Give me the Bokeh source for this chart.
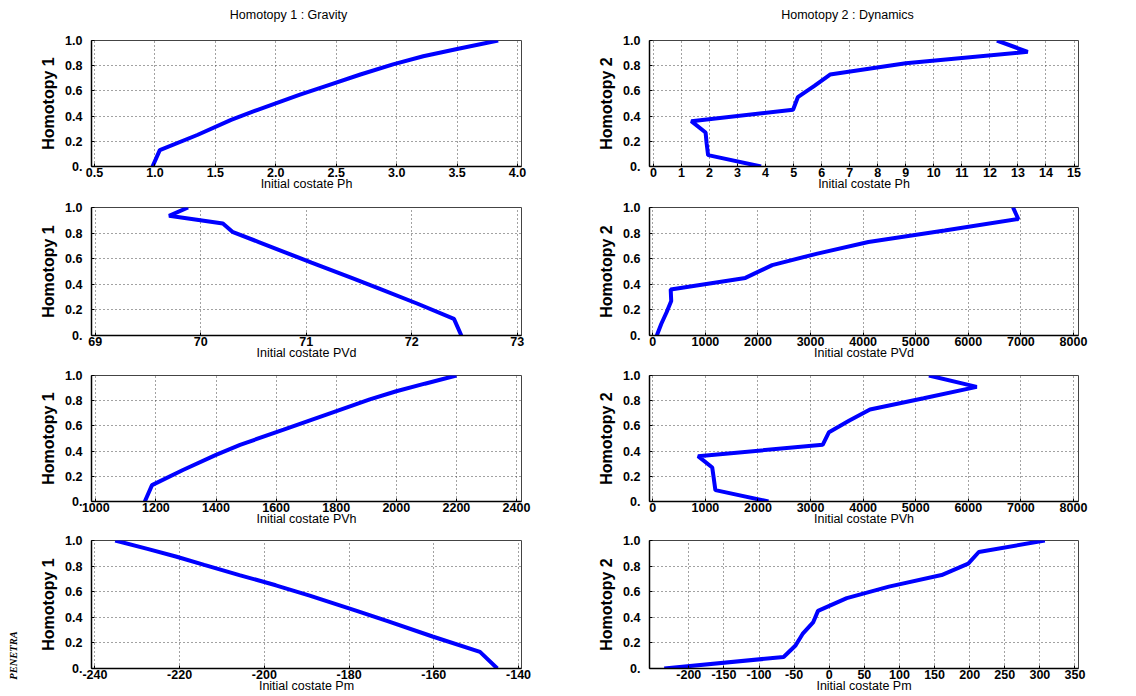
import math
from bokeh.plotting import figure
from bokeh.layouts import gridplot, column, row
from bokeh.models import FixedTicker, Range1d
from bokeh.core.properties import value
from bokeh.embed import file_html
from bokeh.resources import INLINE

# ---------------- data ----------------
lam1 = [0.0, 0.13, 0.25, 0.37, 0.45, 0.57, 0.65, 0.73, 0.81, 0.875, 0.935, 1.0]
lam2 = [0.0, 0.09, 0.18, 0.27, 0.36, 0.45, 0.55, 0.64, 0.73, 0.82, 0.91, 1.0]

h1_ph  = [0.98, 1.04, 1.35, 1.63, 1.85, 2.20, 2.45, 2.70, 2.97, 3.22, 3.51, 3.84]
h1_pvd = [72.47, 72.40, 72.05, 71.68, 71.43, 71.05, 70.80, 70.55, 70.30, 70.21, 69.70, 69.88]
h1_pvh = [1163, 1187, 1290, 1400, 1480, 1625, 1720, 1815, 1912, 2000, 2095, 2200]
h1_pm  = [-145.0, -149.1, -160.3, -170.9, -178.2, -189.3, -197.3, -205.9, -214.2, -220.9, -227.6, -235.2]

h2_ph  = [3.84, 1.95, 1.90, 1.86, 1.35, 4.98, 5.15, 5.74, 6.30, 9.0, 13.35, 12.25]
h2_pvd = [76, 160, 260, 350, 340, 1760, 2270, 3130, 4100, 5550, 6950, 6850]
h2_pvh = [2200, 1190, 1160, 1130, 860, 3230, 3350, 3730, 4130, 5150, 6160, 5250]
h2_pm  = [-235, -65, -48, -38, -23, -16, 25, 85, 160, 198, 213, 307]

y_ticks = [0.0, 0.2, 0.4, 0.6, 0.8, 1.0]
y_tick_labels = ["0.", "0.2", "0.4", "0.6", "0.8", "1.0"]

ph1_ticks = [0.5, 1.0, 1.5, 2.0, 2.5, 3.0, 3.5, 4.0]
ph1_labels = ["0.5", "1.0", "1.5", "2.0", "2.5", "3.0", "3.5", "4.0"]
pvd1_ticks = [69, 70, 71, 72, 73]
pvh1_ticks = [1000, 1200, 1400, 1600, 1800, 2000, 2200, 2400]
pm1_ticks = [-240, -220, -200, -180, -160, -140]
ph2_ticks = list(range(0, 16))
pvd2_ticks = [0, 1000, 2000, 3000, 4000, 5000, 6000, 7000, 8000]
pvh2_ticks = [0, 1000, 2000, 3000, 4000, 5000, 6000, 7000, 8000]
pm2_ticks = [-200, -150, -100, -50, 0, 50, 100, 150, 200, 250, 300, 350]

titles = ["Homotopy 1 : Gravity", "Homotopy 2 : Dynamics"]
x_labels = ["Initial costate Ph", "Initial costate PVd", "Initial costate PVh", "Initial costate Pm"]
side_note = ["PENETRA"]

FONT = "Liberation Sans"


def make(xs, lam, xr, xticks, xtick_labels, ylab, xlab, width, height,
         bl, br, bt, bb):
    p = figure(width=width, height=height, output_backend="svg",
               toolbar_location=None, x_range=Range1d(*xr), y_range=Range1d(0.0, 1.0),
               min_border_left=bl, min_border_right=br, min_border_top=bt,
               min_border_bottom=bb)
    p.background_fill_color = "white"
    p.border_fill_color = "white"
    p.outline_line_color = "#444444"
    p.outline_line_width = 1
    p.line(xs, lam, line_color="#0000FF", line_width=4)

    p.xaxis.ticker = FixedTicker(ticks=xticks)
    p.yaxis.ticker = FixedTicker(ticks=y_ticks)
    p.xaxis.major_label_overrides = {t: s for t, s in zip(xticks, xtick_labels)}
    p.yaxis.major_label_overrides = {t: s for t, s in zip(y_ticks, y_tick_labels)}
    for ax in (p.xaxis[0], p.yaxis[0]):
        ax.axis_line_color = "black"
        ax.axis_line_width = 1.5
        ax.major_tick_in = 3
        ax.major_tick_out = 0
        ax.minor_tick_line_color = None
        ax.major_label_text_font = FONT
        ax.major_label_text_font_size = "12.5px"
        ax.major_label_text_font_style = "bold"
        ax.major_label_text_color = "black"
        ax.axis_label_text_font = FONT
        ax.axis_label_text_color = "black"
    p.xaxis.major_label_standoff = 1
    p.xaxis.axis_label = xlab
    p.xaxis.axis_label_text_font_size = "12.5px"
    p.xaxis.axis_label_text_font_style = "normal"
    p.xaxis.axis_label_standoff = -3
    p.yaxis.major_label_standoff = 9
    p.yaxis.axis_label = ylab
    p.yaxis.axis_label_text_font_size = "16px"
    p.yaxis.axis_label_text_font_style = "bold"
    p.yaxis.axis_label_standoff = 5

    for g in (p.xgrid[0], p.ygrid[0]):
        g.grid_line_color = "#444444"
        g.grid_line_dash = "1 3"
        g.grid_line_width = 1
    return p


def blank(width, height, xr, yr):
    p = figure(width=width, height=height, output_backend="svg",
               toolbar_location=None, x_range=Range1d(*xr), y_range=Range1d(*yr),
               min_border_left=0, min_border_right=0, min_border_top=0,
               min_border_bottom=0)
    p.axis.visible = False
    p.grid.visible = False
    p.outline_line_color = None
    p.background_fill_color = "white"
    p.border_fill_color = "white"
    return p


# ---------------- layout ----------------
TOTAL_W, TOTAL_H = 1136, 696
TITLE_H = 30
NOTE_W = 22
WL = 568 - NOTE_W
WR = 568
row_h = [166, 169, 166, 165]
row_top = [10, 11, 10, 9]
row_bot = [30, 30, 30, 28]

left_specs = [
    (h1_ph, ph1_ticks, ph1_labels, (0.475, 4.033)),
    (h1_pvd, pvd1_ticks, [str(t) for t in pvd1_ticks], (68.965, 73.04)),
    (h1_pvh, pvh1_ticks, [str(t) for t in pvh1_ticks], (985.6, 2416.7)),
    (h1_pm, pm1_ticks, [str(t) for t in pm1_ticks], (-240.8, -139.3)),
]
right_specs = [
    (h2_ph, ph2_ticks, [str(t) for t in ph2_ticks], (-0.14, 15.16)),
    (h2_pvd, pvd2_ticks, [str(t) for t in pvd2_ticks], (-63, 8095)),
    (h2_pvh, pvh2_ticks, [str(t) for t in pvh2_ticks], (-63, 8095)),
    (h2_pm, pm2_ticks, [str(t) for t in pm2_ticks], (-256, 355)),
]

rows = []
for i in range(4):
    xs, tk, tl, xr = left_specs[i]
    pl = make(xs, lam1, xr, tk, tl, "Homotopy 1", x_labels[i], WL, row_h[i],
              91 - NOTE_W, 47, row_top[i], row_bot[i])
    xs, tk, tl, xr = right_specs[i]
    pr = make(xs, lam2, xr, tk, tl, "Homotopy 2", x_labels[i], WR, row_h[i],
              81, 58, row_top[i], row_bot[i])
    rows.append([pl, pr])

grid = gridplot(rows, toolbar_location=None)

# column titles strip
pt = blank(TOTAL_W, TITLE_H, (0, TOTAL_W), (0, TITLE_H))
pt.text(x=[288, 847], y=[16, 16], text=titles, text_align="center",
        text_baseline="middle", text_font=value(FONT), text_font_size="12.5px",
        text_color="black")

# side note strip
GRID_H = TOTAL_H - TITLE_H
pn = blank(NOTE_W, GRID_H, (0, NOTE_W), (0, GRID_H))
pn.text(x=[13], y=[41], text=side_note, angle=math.pi / 2, text_align="center",
        text_baseline="middle", text_font=value("Liberation Serif"),
        text_font_size="10.5px", text_font_style="bold italic", text_color="black")

layout = column(pt, row(pn, grid))
open("out.html", "w").write(file_html(layout, INLINE))
